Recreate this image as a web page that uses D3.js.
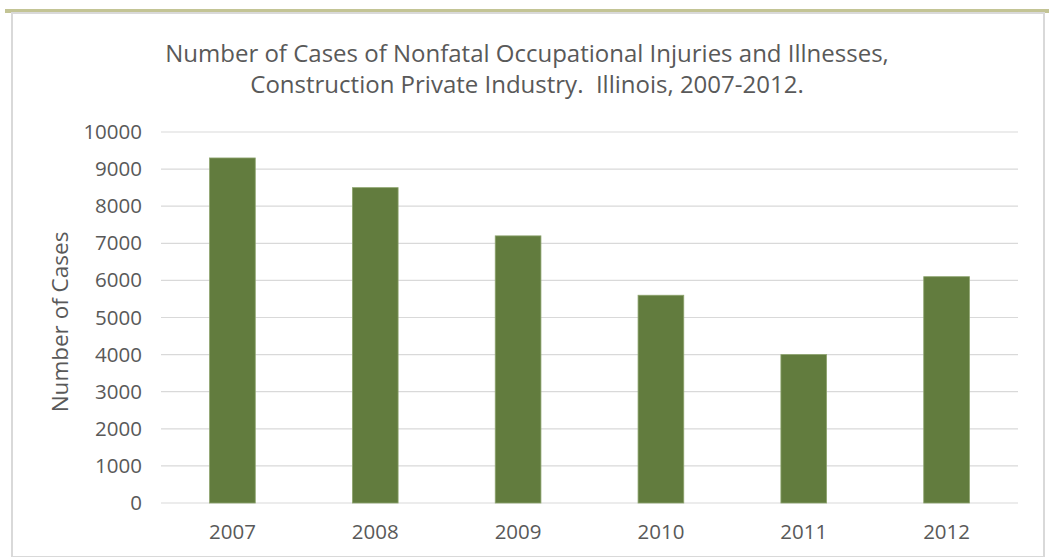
<!DOCTYPE html>
<html>
<head>
<meta charset="utf-8">
<script src="https://cdn.jsdelivr.net/npm/d3@7"></script>
<style>
  body { margin: 0; background: #fff; }
  text { font-family: "Open Sans", sans-serif; fill: #595959; }
</style>
</head>
<body>
<div id="chart"></div>
<script>
const years = ["2007", "2008", "2009", "2010", "2011", "2012"];
const cases = [9300, 8500, 7200, 5600, 4000, 6100];
const yTicks = [0, 1000, 2000, 3000, 4000, 5000, 6000, 7000, 8000, 9000, 10000];
const titleLines = [
  "Number of Cases of Nonfatal Occupational Injuries and Illnesses,",
  "Construction Private Industry.  Illinois, 2007-2012."
];

const W = 1049, H = 557;
const margin = { top: 132, right: 31, bottom: 54, left: 161 };
const width = W - margin.left - margin.right;
const height = H - margin.top - margin.bottom;

const root = d3.select("#chart").append("svg")
  .attr("width", W)
  .attr("height", H);

// frame: olive band on top, grey sides
root.append("rect").attr("x", 5).attr("y", 9).attr("width", W - 5).attr("height", 4).attr("fill", "#c3c495");
root.append("rect").attr("x", 12).attr("y", 13).attr("width", 1032).attr("height", H - 13)
  .attr("fill", "#fff").attr("stroke", "#d9d9d9").attr("stroke-width", 2);

const svg = root.append("g")
  .attr("transform", `translate(${margin.left},${margin.top})`);

const x = d3.scaleBand()
  .domain(years)
  .range([0, width])
  .paddingInner(0.68)
  .paddingOuter(0.34);

const y = d3.scaleLinear()
  .domain([0, 10000])
  .range([height, 0]);

// gridlines
svg.append("g")
  .selectAll("line")
  .data(yTicks)
  .enter().append("line")
  .attr("x1", 0)
  .attr("x2", width)
  .attr("y1", d => y(d))
  .attr("y2", d => y(d))
  .attr("stroke", "#d9d9d9")
  .attr("stroke-width", 1.2);

// y axis
const yAxis = svg.append("g")
  .call(d3.axisLeft(y).tickValues(yTicks).tickSize(0).tickPadding(19).tickFormat(d3.format("d")));
yAxis.select(".domain").remove();
yAxis.selectAll("text")
  .style("font-family", "'Open Sans', sans-serif")
  .style("font-size", "20.5px")
  .attr("fill", "#595959");

// x axis
const xAxis = svg.append("g")
  .attr("transform", `translate(0,${height})`)
  .call(d3.axisBottom(x).tickSize(0).tickPadding(21));
xAxis.select(".domain").remove();
xAxis.selectAll("text")
  .style("font-family", "'Open Sans', sans-serif")
  .style("font-size", "20.5px")
  .attr("fill", "#595959");

// bars
svg.selectAll(".bar")
  .data(years)
  .enter().append("rect")
  .attr("class", "bar")
  .attr("x", d => x(d))
  .attr("width", x.bandwidth())
  .attr("y", (d, i) => y(cases[i]))
  .attr("height", (d, i) => height - y(cases[i]))
  .attr("fill", "#627c3e")
  .attr("stroke", "#8da46e")
  .attr("stroke-width", 0.8);

// y label
root.append("text")
  .attr("transform", "translate(68,322) rotate(-90)")
  .style("text-anchor", "middle")
  .style("font-size", "22.5px")
  .text("Number of Cases");

// title
root.append("text")
  .attr("x", 527)
  .attr("y", 62)
  .style("text-anchor", "middle")
  .style("font-size", "24px")
  .style("white-space", "pre")
  .selectAll("tspan")
  .data(titleLines)
  .enter().append("tspan")
  .attr("x", 527)
  .attr("dy", (d, i) => i === 0 ? 0 : 31)
  .text(d => d);
</script>
</body>
</html>
